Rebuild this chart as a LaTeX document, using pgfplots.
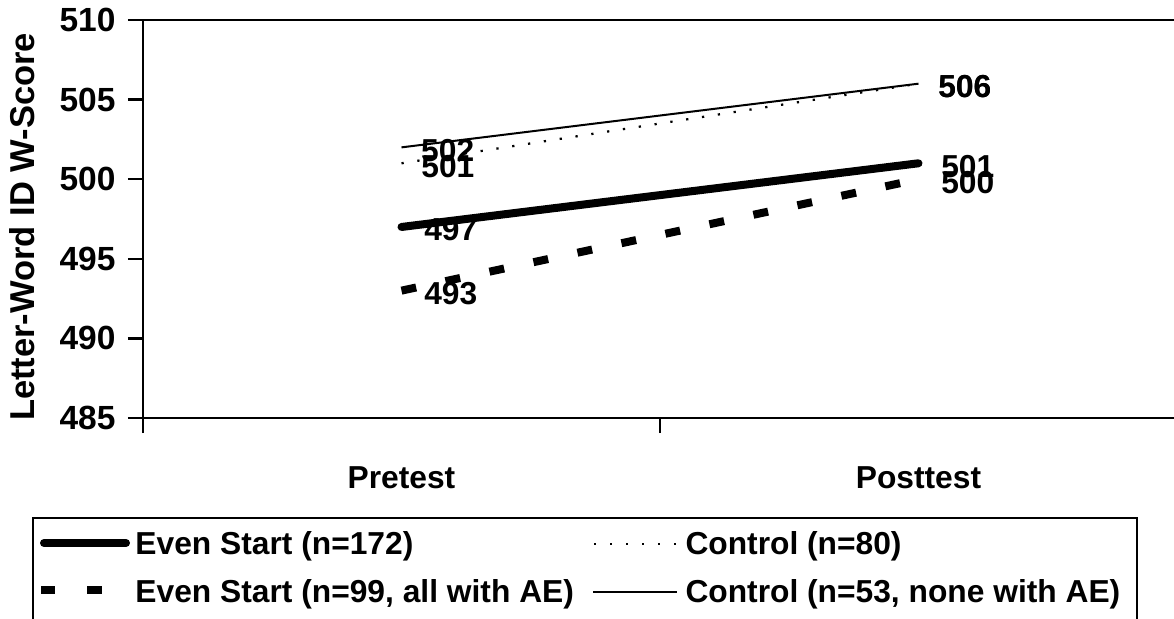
\documentclass[border=0pt]{standalone}
\usepackage{fontspec}
\setmainfont{Liberation Sans}
\usepackage{pgfplots}
\pgfplotsset{compat=1.18}
\newcommand\lbl{\fontsize{12.7}{15}\selectfont\bfseries}
\newcommand\tlbl{\fontsize{13.4}{16}\selectfont\bfseries}
\begin{document}
\begin{tikzpicture}[x=1pt,y=1pt]
\useasboundingbox (0,0) rectangle (469.6,247.2);
\begin{axis}[
  at={(57.2pt,80pt)}, anchor=south west,
  scale only axis, width=413.6pt, height=159.2pt,
  xmin=0, xmax=2, ymin=485, ymax=510,
  axis x line*=bottom, axis y line*=left,
  axis line style={line width=1.1pt, -},
  xtick={0,1,2}, xticklabels={},
  ytick={485,490,...,510},
  tick align=outside, major tick length=6pt,
  tick style={line width=1pt, black},
  yticklabel style={font=\tlbl, /pgf/number format/assume math mode=true, xshift=-1.5pt},
  extra x ticks={0.5,1.5},
  extra x tick labels={Pretest,Posttest},
  extra x tick style={major tick length=0pt, xticklabel style={font=\lbl, yshift=-16pt}},
  clip=false,
  every axis plot/.append style={
    nodes near coords, point meta=explicit symbolic,
    every node near coord/.style={font=\lbl, anchor=west, inner sep=0pt, xshift=7.5pt, yshift=-1.2pt, black}},
]
\draw[line width=0.6pt] (rel axis cs:0,1) -- (rel axis cs:1,1);
% Control (n=80) dotted
\addplot[black, line width=0.9pt, dash pattern=on 0.9pt off 5.5pt] coordinates {(0.5,501) [501] (1.5,506) [506]};
% Control (n=53) thin solid
\addplot[black, line width=0.8pt] coordinates {(0.5,502) [502] (1.5,506) [506]};
% Even Start (n=99) dashed
\addplot[black, line width=3.2pt, dash pattern=on 6pt off 12pt] coordinates {(0.5,493) [493] (1.5,500) [500]};
% Even Start (n=172) thick
\addplot[black, line width=3.2pt, line cap=round] coordinates {(0.5,497) [497] (1.5,501) [501]};
\end{axis}
% y label
\node[rotate=90, font=\fontsize{13.8}{16}\selectfont\bfseries] at (9.0,156.4) {Letter-Word ID W-Score};
% legend
\draw[line width=0.8pt] (13.2,-20) -- (13.2,40) -- (454.8,40) -- (454.8,-20);
\draw[line width=3.2pt, line cap=round] (17.6,30) -- (50.4,30);
\node[font=\lbl, anchor=base west, inner sep=0pt] at (54,25.4) {Even Start (n=172)};
\draw[line width=3.2pt] (16.4,11.2) -- (22,11.2);
\draw[line width=3.2pt] (34.8,11.2) -- (40.8,11.2);
\node[font=\lbl, anchor=base west, inner sep=0pt] at (54,6.4) {Even Start (n=99, all with AE)};
\draw[line width=0.9pt, dash pattern=on 0.9pt off 5.5pt] (237.6,29.6) -- (270.8,29.6);
\node[font=\lbl, anchor=base west, inner sep=0pt] at (274,25.4) {Control (n=80)};
\draw[line width=0.8pt] (237.2,10.4) -- (270.8,10.4);
\node[font=\lbl, anchor=base west, inner sep=0pt] at (274,6.4) {Control (n=53, none with AE)};
\end{tikzpicture}
\end{document}
